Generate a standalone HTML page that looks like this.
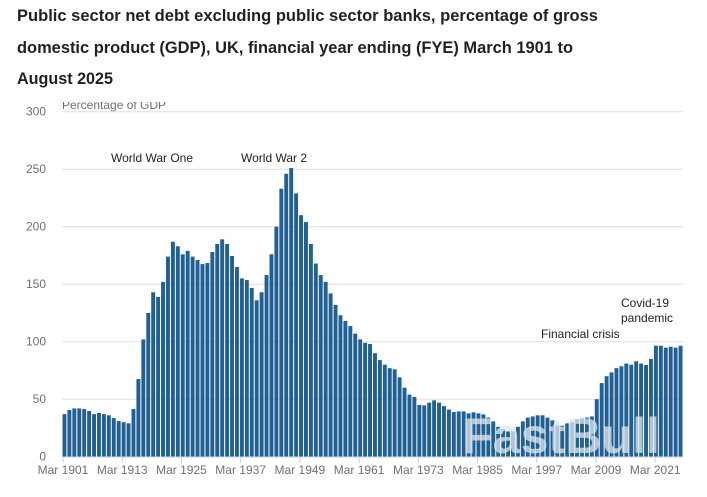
<!DOCTYPE html>
<html><head><meta charset="utf-8"><style>
html,body{margin:0;padding:0;background:#fff;}
svg{display:block;font-family:"Liberation Sans",Arial,sans-serif;}
</style></head><body>
<svg id="s" width="707" height="497" viewBox="0 0 707 497" xmlns="http://www.w3.org/2000/svg">
<g font-weight="bold" font-size="17" fill="#222">
<text x="17" y="21" textLength="581" lengthAdjust="spacingAndGlyphs">Public sector net debt excluding public sector banks, percentage of gross</text>
<text x="17" y="53" textLength="556" lengthAdjust="spacingAndGlyphs">domestic product (GDP), UK, financial year ending (FYE) March 1901 to</text>
<text x="17" y="84" textLength="96" lengthAdjust="spacingAndGlyphs">August 2025</text>
</g>
<text x="62" y="109" font-size="12" fill="#707070">Percentage of GDP</text>
<rect x="55" y="88" width="200" height="14" fill="#fff"/>
<g id="grid" stroke="#e0e0e0" stroke-width="1"></g>
<g id="ylab" font-size="12" fill="#707070" text-anchor="end"></g>
<g id="bars" fill="#206095"></g>
<line x1="62" y1="457" x2="683" y2="457" stroke="#c8d3e3"/>
<g id="xt" font-size="12" fill="#707070" text-anchor="middle"></g>
<g font-size="12" fill="#222">
<text x="111" y="162">World War One</text>
<text x="241" y="162">World War 2</text>
<text x="541" y="338">Financial crisis</text>
<text x="621" y="307">Covid-19</text>
<text x="621" y="322">pandemic</text>
</g>
<text x="462" y="453" font-size="50" font-weight="bold" fill="#dfe7f0" fill-opacity="0.75" textLength="198" lengthAdjust="spacingAndGlyphs">FastBull</text>
</svg>
<script>
var d=[37,40.6,42,42,41.4,39.7,37,38,37,36,33.6,31,30,29,41.4,67.5,102,125,143,139,152,174,187,183,176,179,174,171,167.5,168.4,178,185,189,185,174.5,165,155,153.6,146.7,136,143,158,176,200,233,246,251,229,210,204,185,168,158,152,142,132,123,118,113.6,107,
102,99,98,90,84,80,77,76,69,60,54,52,45,44.6,47,49,47,44,41,38.8,39.4,39.4,37.7,38.6,37.7,
36.8,34,30.7,26,24,22,22,26,30.7,34,35,36,36,34,31.6,27,27,29,30,32.5,33.3,34,35,
50,64,70,73.3,77,78.6,81,80,83,81,79.7,85,96.5,96.5,94.8,95.6,94.8,96.5];
var ns="http://www.w3.org/2000/svg";
function el(p,t,a,txt){var e=document.createElementNS(ns,t);for(var k in a)e.setAttribute(k,a[k]);if(txt)e.textContent=txt;document.getElementById(p).appendChild(e);}
var y0=456.7,s=1.15;
for(var v=0;v<=300;v+=50){var y=y0-v*s;if(v>0)el("grid","line",{x1:62,x2:683,y1:y,y2:y});el("ylab","text",{x:46,y:y+4},""+v);}
var n=d.length,x0=62,step=(683-62)/n;
for(var i=0;i<n;i++){var h=d[i]*s;el("bars","rect",{x:x0+i*step+0.5,y:y0-h,width:step-1,height:h});}
var yrs=[1901,1913,1925,1937,1949,1961,1973,1985,1997,2009,2021];
for(var j=0;j<yrs.length;j++){var x=63+(yrs[j]-1901)*4.935;el("xt","line",{x1:x,x2:x,y1:457,y2:463,stroke:"#c8d3e3"});el("xt","text",{x:x,y:474},"Mar "+yrs[j]);}
</script>
</body></html>
